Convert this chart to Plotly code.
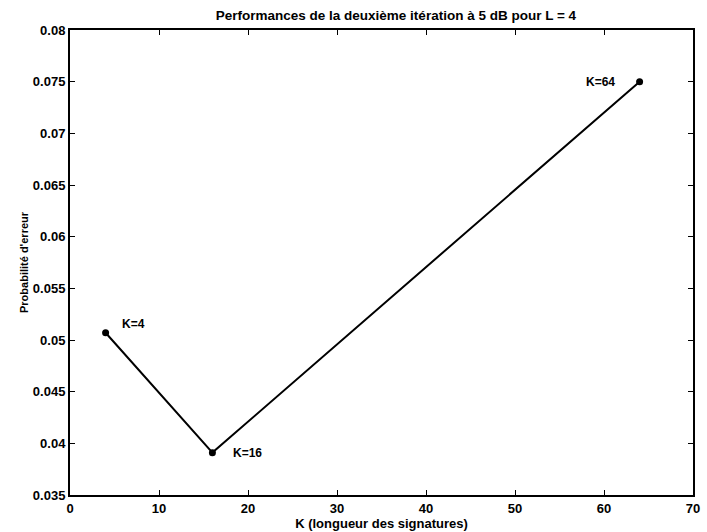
import plotly.graph_objects as go

# Signature length K and corresponding error probability
K = [4, 16, 64]
p_err = [0.0507, 0.0391, 0.0750]
point_labels = ["K=4", "K=16", "K=64"]

x_ticks = [0, 10, 20, 30, 40, 50, 60, 70]
y_ticks = [0.035, 0.04, 0.045, 0.05, 0.055, 0.06, 0.065, 0.07, 0.075, 0.08]
y_tick_text = ["0.035", "0.04", "0.045", "0.05", "0.055", "0.06", "0.065", "0.07", "0.075", "0.08"]

font_family = "Liberation Sans, Arial, sans-serif"


def bold(size):
    return dict(family=font_family, size=size, color="black", weight="bold")


fig = go.Figure()
fig.add_trace(go.Scatter(
    x=K, y=p_err,
    mode="lines+markers",
    line=dict(color="black", width=2),
    marker=dict(color="black", size=7),
    showlegend=False,
))

# Point labels, offset from each marker
offsets = [(14, 9, "left"), (19, 0, "left"), (-23, 0, "right")]
for k, p, lab, (dx, dy, anchor) in zip(K, p_err, point_labels, offsets):
    fig.add_annotation(
        x=k, y=p, text=lab, showarrow=False,
        xanchor=anchor, yanchor="middle", xshift=dx, yshift=dy,
        font=bold(12),
    )

axis_common = dict(
    showline=True, linecolor="black", linewidth=2, mirror="ticks",
    ticks="inside", ticklen=5, tickcolor="black", tickwidth=1,
    showgrid=False, zeroline=False,
    tickfont=bold(13),
)

fig.update_layout(
    width=707, height=532,
    margin=dict(l=70, r=7, t=30, b=37),
    paper_bgcolor="white", plot_bgcolor="white",
    title=dict(
        text="Performances de la deuxième itération à 5 dB pour L = 4",
        x=0.56, xanchor="center", y=0.972, yanchor="middle",
        font=bold(13.5),
    ),
    xaxis=dict(
        range=[0, 70], tickvals=x_ticks,
        title=dict(text="K (longueur des signatures)", standoff=0,
                   font=bold(13)),
        **axis_common,
    ),
    yaxis=dict(
        range=[0.035, 0.08], tickvals=y_ticks, ticktext=y_tick_text,
        title=dict(text="Probabilité d'erreur", standoff=2,
                   font=bold(11)),
        **axis_common,
    ),
)

fig.write_html("out.html")
